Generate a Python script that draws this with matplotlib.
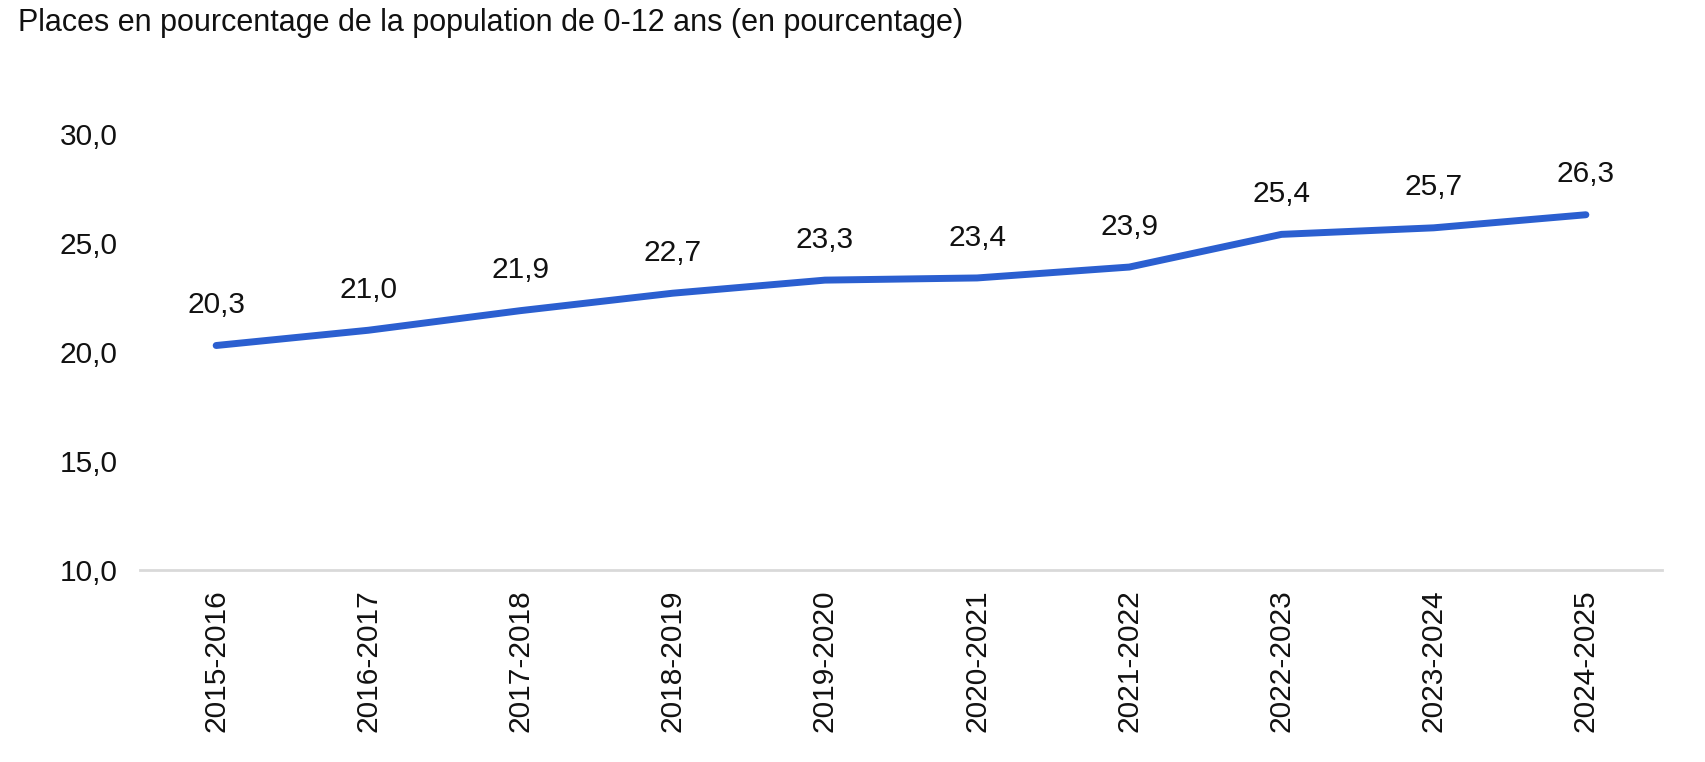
import matplotlib.pyplot as plt

plt.rcParams['font.family'] = ['Liberation Sans', 'DejaVu Sans']

years = ["2015-2016", "2016-2017", "2017-2018", "2018-2019", "2019-2020",
         "2020-2021", "2021-2022", "2022-2023", "2023-2024", "2024-2025"]
places = [20.3, 21.0, 21.9, 22.7, 23.3, 23.4, 23.9, 25.4, 25.7, 26.3]
yticks = [10, 15, 20, 25, 30]

fig = plt.figure(figsize=(17.06, 7.62), dpi=100)
ax = fig.add_axes([0.0821, 0.252, 0.8921, 0.572])

x = list(range(len(years)))
ax.plot(x, places, color='#2b5fd0', lw=5, solid_capstyle='round',
        solid_joinstyle='round', clip_on=False, zorder=3)

for xi, v in zip(x, places):
    ax.annotate(f"{v:.1f}".replace('.', ','), (xi, v), xytext=(0, 19),
                textcoords='offset points', ha='center', va='bottom',
                fontsize=21.5, color='#111111')

ax.set_xlim(-0.5, len(years) - 0.5)
ax.set_ylim(10, 30)
ax.set_yticks(yticks)
ax.set_yticklabels([f"{t:.1f}".replace('.', ',') for t in yticks])
ax.set_xticks(x)
ax.set_xticklabels(years, rotation=90)

for s in ['top', 'right', 'left']:
    ax.spines[s].set_visible(False)
ax.spines['bottom'].set_color('#d9d9d9')
ax.spines['bottom'].set_linewidth(2)

ax.tick_params(axis='y', length=0, pad=16, labelsize=21.5, labelcolor='#111111')
ax.tick_params(axis='x', length=0, pad=14, labelsize=21.5, labelcolor='#111111')

fig.text(18 / 1706, 1 - 23 / 762, "Places en pourcentage de la population de 0-12 ans (en pourcentage)",
         ha='left', va='center', fontsize=22, color='#111111')

fig.savefig('out.png', dpi=100)
